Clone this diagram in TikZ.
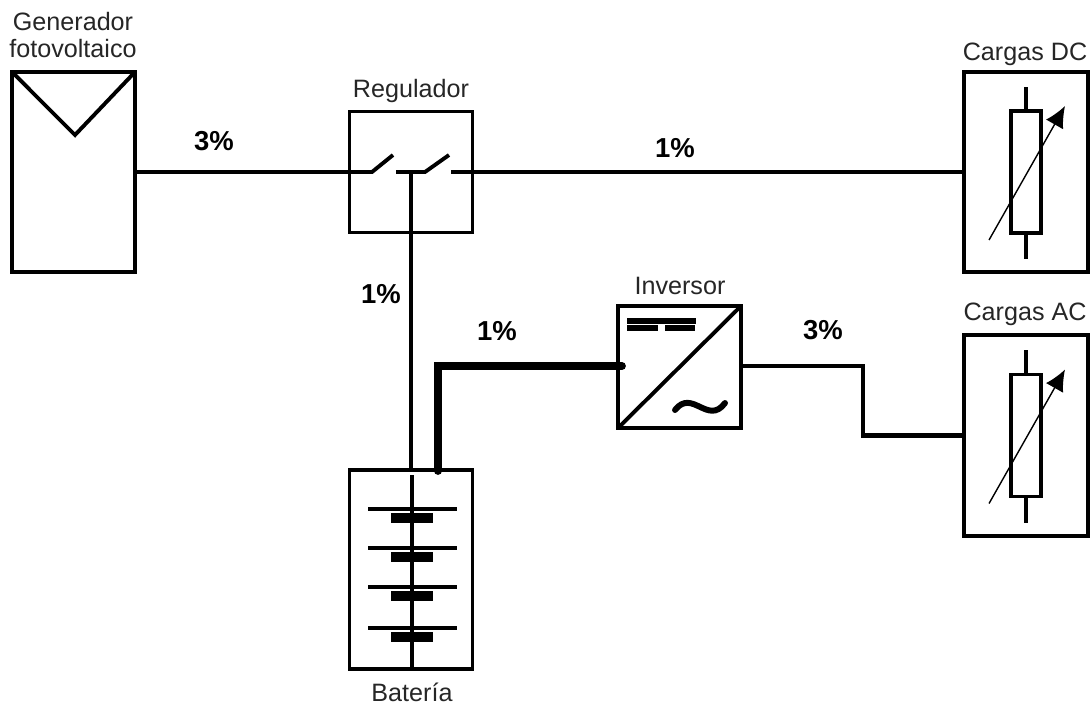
\documentclass[tikz,border=0pt]{standalone}
\usepackage{fontspec}
\setmainfont{Liberation Sans}
\usetikzlibrary{arrows.meta}

\tikzset{
	box/.style = {draw, line width = 1.1pt, outer sep = 0pt, inner sep = 0pt, fill = white},
	label/.style = {font = \fontsize{7.15}{7.7}\selectfont, text = black!85, align = center, inner sep = 0pt},
	percent/.style = {font = \fontsize{7.8}{9}\selectfont\bfseries, inner sep = 0pt},
	wire/.style = {line width = 1.1pt},
	bus/.style = {line width = 2.2pt}
}

\begin{document}
\begin{tikzpicture}[x = 0.01cm, y = -0.01cm]

		\useasboundingbox (0, 0) rectangle (1092, 706);

		% cajas
		\node[box, minimum width = 1.23cm, minimum height = 2cm] (generador) at (73.5, 172) {};
		\node[box, minimum width = 1.23cm, minimum height = 1.21cm] (regulador) at (411, 172) {};
		\node[box, minimum width = 1.23cm, minimum height = 1.99cm] (bateria) at (411, 569.5) {};
		\node[box, minimum width = 1.23cm, minimum height = 1.22cm] (inversor) at (679.5, 367) {};
		\node[box, minimum width = 1.24cm, minimum height = 2cm] (cargasdc) at (1026, 172) {};
		\node[box, minimum width = 1.24cm, minimum height = 2.01cm] (cargasac) at (1026, 435.5) {};

		% panel
		\draw[wire] (generador.north west) -- (75, 135) -- (generador.north east);

		% interruptores
		\coordinate (contactoa) at (372, 172);
		\coordinate (contactob) at (396, 172);
		\coordinate (contactoc) at (425, 172);
		\coordinate (contactod) at (451, 172);
		\coordinate (nudo) at (411, 172);
		\draw[wire] (generador.east) -- (contactoa) -- (393, 155);
		\draw[wire] (contactob) -- (contactoc) -- (449, 155);
		\draw[wire] (contactod) -- (cargasdc.west);
		\draw[wire] (nudo) -- (nudo |- bateria.north);

		% bateria
		\draw[line width = 1.4pt] (412, 475) -- (412, 667);
		\foreach \y in {509, 548, 587, 628}
		{
			\draw[line width = 1.3pt] (368, \y) -- (457, \y);
			\fill (391, \y + 4) rectangle (433, \y + 14);
		}

		% inversor
		\coordinate (bajada) at (438, 471);
		\coordinate (codo) at (438, 366);
		\draw[bus, line cap = round] (bajada) -- (codo) -- (622, 366);
		\draw[wire] (inversor.south west) -- (inversor.north east);
		\fill (627, 318) rectangle (696, 323.5);
		\fill (627, 325) rectangle (658, 330.5);
		\fill (665, 325) rectangle (695, 330.5);
		\draw[line width = 1.7pt, line cap = round] (675, 410) .. controls (692, 388) and (708, 426) .. (725, 403);
		\coordinate (salida) at (863, 366);
		\draw[line width = 1.3pt] (inversor.east |- salida) -- (salida) -- (863, 435.5) -- (cargasac.west);

		% cargas
		\foreach \carga/\yc in {dc/172, ac/435.5}
		{
			\node[box, minimum width = 0.3cm, minimum height = 1.22cm] (resistencia\carga) at (1026, \yc) {};
			\draw[wire] (resistencia\carga.north) -- ++(0, -24);
			\draw[wire] (resistencia\carga.south) -- ++(0, 26);
			\draw[line width = 0.4pt, -{Latex[length = 6pt, width = 5.6pt]}] (989, \yc + 68) -- (1065, \yc - 66);
		}

		% textos
		\node[label] (textogenerador) at (73, 35) {Generador\\fotovoltaico};
		\node[label] (textoregulador) at (411, 91) {Regulador};
		\node[label] (textobateria) at (412, 692) {Batería};
		\node[label] (textoinversor) at (680, 286) {Inversor};
		\node[label] (textodc) at (1025, 54) {Cargas DC};
		\node[label] (textoac) at (1025, 314) {Cargas AC};

		\node[percent] (caidaa) at (214, 141) {3\%};
		\node[percent] (caidab) at (675, 148) {1\%};
		\node[percent] (caidac) at (381, 294) {1\%};
		\node[percent] (caidad) at (497, 331) {1\%};
		\node[percent] (caidae) at (823, 330) {3\%};

	\end{tikzpicture}
\end{document}
